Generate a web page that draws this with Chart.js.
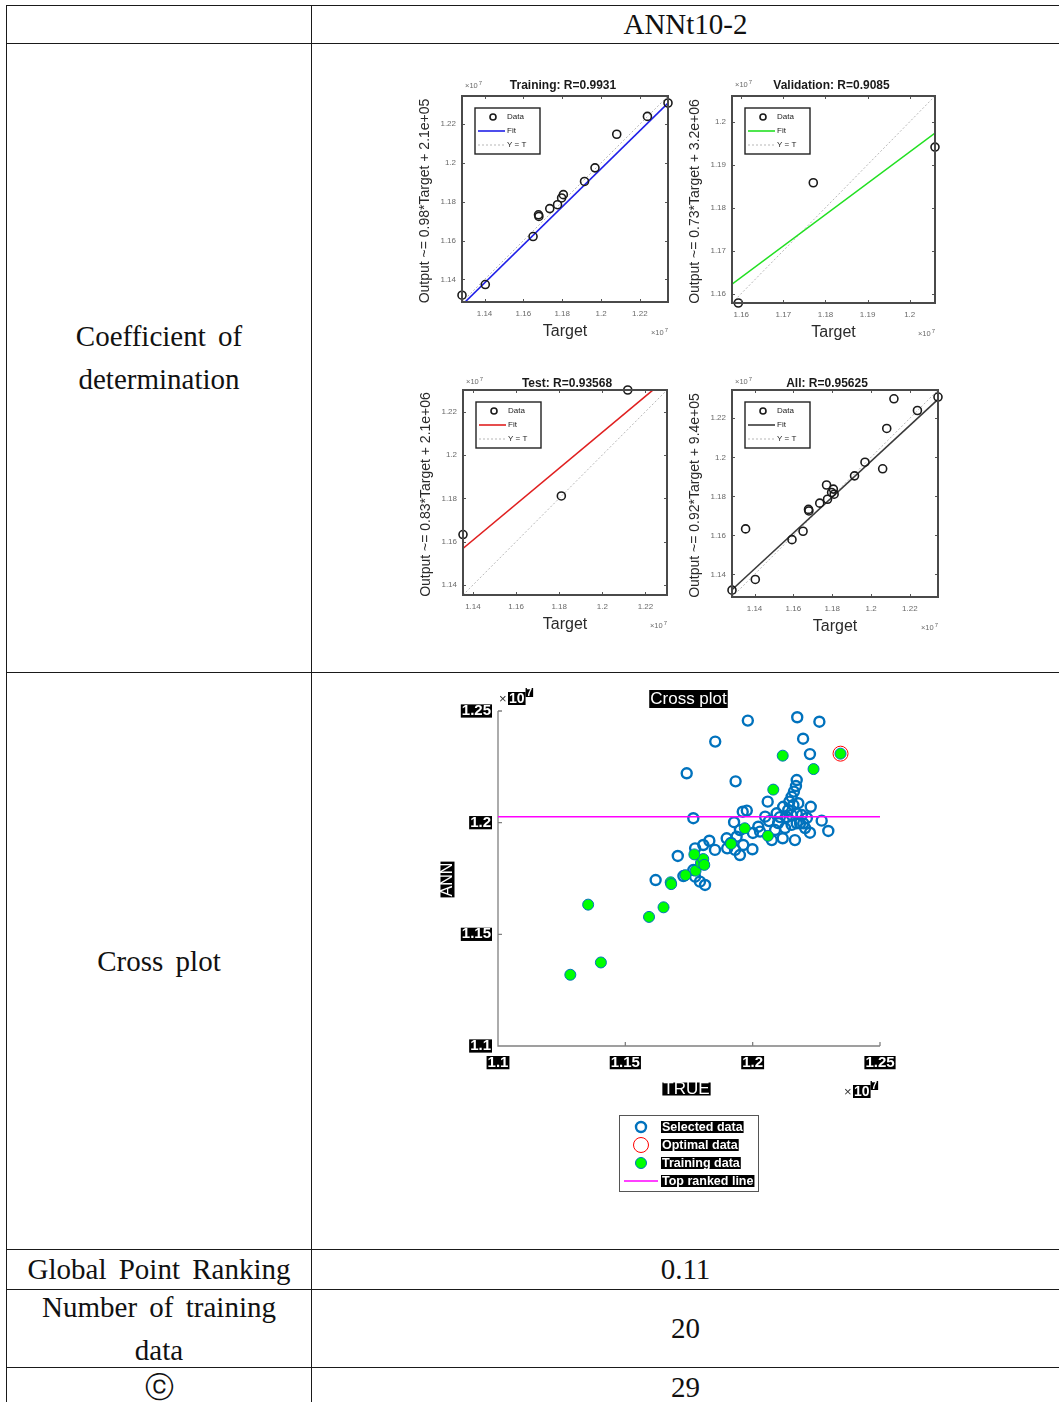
<!DOCTYPE html>
<html>
<head>
<meta charset="utf-8">
<title>ANNt10-2</title>
<script src="https://cdn.jsdelivr.net/npm/chart.js@4.4.1/dist/chart.umd.min.js"></script>
<style>
  html, body { margin: 0; padding: 0; background: #fff; }
  body { position: relative; width: 1059px; height: 1402px; overflow: hidden; }
  .hl { position: absolute; height: 1px; background: #1a1a1a; }
  .vl { position: absolute; width: 1px; background: #1a1a1a; }
  .cell { position: absolute; display: flex; flex-direction: column; justify-content: center; align-items: center;
          font-family: "Liberation Serif", "DejaVu Serif", serif; font-size: 29px; color: #111;
          line-height: 43px; word-spacing: 5px; white-space: nowrap; }
  canvas { position: absolute; }
  canvas.reg { filter: blur(0.7px); }
</style>
</head>
<body>
<!-- table rules -->
<div class="hl" style="left:6px;top:5px;width:1053px"></div>
<div class="hl" style="left:6px;top:43px;width:1053px"></div>
<div class="hl" style="left:6px;top:672px;width:1053px"></div>
<div class="hl" style="left:6px;top:1249px;width:1053px"></div>
<div class="hl" style="left:6px;top:1289px;width:1053px"></div>
<div class="hl" style="left:6px;top:1367px;width:1053px"></div>
<div class="vl" style="left:6px;top:5px;height:1397px"></div>
<div class="vl" style="left:311px;top:5px;height:1397px"></div>

<!-- table text -->
<div class="cell" style="left:312px;top:6px;width:747px;height:37px">ANNt10-2</div>
<div class="cell" style="left:7px;top:44px;width:304px;height:628px"><div>Coefficient of</div><div>determination</div></div>
<div class="cell" style="left:7px;top:673px;width:304px;height:576px">Cross plot</div>
<div class="cell" style="left:7px;top:1250px;width:304px;height:39px">Global Point Ranking</div>
<div class="cell" style="left:312px;top:1250px;width:747px;height:39px">0.11</div>
<div class="cell" style="left:7px;top:1290px;width:304px;height:77px"><div>Number of training</div><div>data</div></div>
<div class="cell" style="left:312px;top:1290px;width:747px;height:77px">20</div>
<div class="cell" style="left:7px;top:1368px;width:304px;height:38px">ⓒ</div>
<div class="cell" style="left:312px;top:1368px;width:747px;height:38px">29</div>

<canvas id="cTrain" class="reg"></canvas>
<canvas id="cVal" class="reg"></canvas>
<canvas id="cTest" class="reg"></canvas>
<canvas id="cAll" class="reg"></canvas>
<canvas id="cCross"></canvas>

<script>
// ---------- data (all values in units of 10^7) ----------
const trainTarget = [1.1284, 1.1404, 1.1650, 1.1678, 1.1680, 1.1736, 1.1776, 1.1797, 1.1806, 1.1915, 1.1969, 1.2081, 1.2239, 1.2345];
const trainOutput = [1.1319, 1.1374, 1.1621, 1.1733, 1.1725, 1.1765, 1.1785, 1.1820, 1.1837, 1.1905, 1.1975, 1.2148, 1.2240, 1.2309];
const valTarget = [1.1593, 1.1771, 1.2060];
const valOutput = [1.1578, 1.1858, 1.1941];
const testTarget = [1.1354, 1.1810, 1.2118];
const testOutput = [1.1633, 1.1811, 1.2300];
const allTarget = trainTarget.concat(valTarget, testTarget);
const allOutput = trainOutput.concat(valOutput, testOutput);

// linear fits (Output ~= slope*Target + intercept) and correlation per subset
const panelNames = ['Training', 'Validation', 'Test', 'All'];
const fitSlope = [0.98, 0.73, 0.83, 0.92];
const fitIntercept = [0.021, 0.317, 0.2145, 0.094];
const rValues = ['0.9931', '0.9085', '0.93568', '0.95625'];

const regTicks = [1.14, 1.16, 1.18, 1.2, 1.22];
const regTicksFine = [1.16, 1.17, 1.18, 1.19, 1.2];

// cross plot: candidate (selected) points, optimum, ranking line
const selTrue = [1.1981, 1.2175, 1.2262, 1.1853, 1.2198, 1.2225, 1.1741, 1.1933, 1.2173, 1.2170, 1.2162, 1.2153, 1.2144, 1.2059, 1.2228, 1.1961, 1.1977, 1.1767, 1.1927, 1.2049, 1.2094, 1.2120, 1.2140, 1.2160, 1.2179, 1.2107, 1.2134, 1.2153, 1.2173, 1.2193, 1.2186, 1.2199, 1.2173, 1.2153, 1.2271, 1.2297, 1.2225, 1.2166, 1.2118, 1.2075, 1.2022, 1.2029, 1.1950, 1.1937, 1.1898, 1.1900, 1.1931, 1.1950, 1.1963, 1.1999, 1.1830, 1.1852, 1.1806, 1.1706, 1.1774, 1.1767, 1.1774, 1.1793, 1.1813, 1.1728, 1.1619, 1.2088, 1.2127, 1.2100, 1.2213, 1.2206, 1.2001, 1.2064, 1.1915];
const selAnn = [1.2457, 1.2472, 1.2452, 1.2363, 1.2376, 1.2307, 1.2221, 1.2185, 1.2191, 1.2164, 1.2139, 1.2116, 1.2094, 1.2094, 1.2071, 1.2049, 1.2054, 1.2020, 1.2002, 1.2027, 1.2042, 1.2071, 1.2057, 1.2079, 1.2087, 1.2025, 1.2025, 1.2034, 1.2042, 1.2034, 1.1997, 1.1997, 1.1997, 1.1990, 1.2009, 1.1963, 1.1955, 1.1922, 1.1930, 1.1922, 1.1982, 1.1960, 1.1967, 1.1937, 1.1930, 1.1885, 1.1878, 1.1855, 1.1900, 1.1881, 1.1919, 1.1878, 1.1900, 1.1851, 1.1885, 1.1788, 1.1758, 1.1736, 1.1721, 1.1761, 1.1743, 1.1967, 1.1976, 1.1998, 1.2021, 1.1976, 1.1954, 1.2007, 1.1909];
const optTrue = [1.2345];
const optAnn = [1.2309];
const topLineTrue = [1.1, 1.25];
const topLineAnn = [1.2027, 1.2027];
const crossTicks = [1.1, 1.15, 1.2, 1.25];

// ---------- helpers ----------
const SANS = '"Liberation Sans", Arial, Helvetica, sans-serif';
Chart.defaults.font.family = SANS;
Chart.defaults.animation = false;
Chart.defaults.responsive = false;
Chart.defaults.plugins.legend.display = false;
Chart.defaults.plugins.tooltip.enabled = false;

const fmtTick = v => String(Number(Number(v).toFixed(2)));
const fmtExp = v => v.toExponential(1).replace(/e([+-])(\d+)$/, (m, s, d) => 'e' + s + d.padStart(2, '0'));
const toPoints = (xs, ys) => xs.map((v, i) => ({ x: v, y: ys[i] }));

function pinnedAxis(axis, lo, hi, tickList, size, tickOpts) {
  return {
    type: 'linear', min: lo, max: hi,
    grid: { display: false, drawTicks: false },
    border: { display: false },
    afterBuildTicks: s => {
      s.ticks = tickList.filter(v => v >= s.min - 1e-9 && v <= s.max + 1e-9).map(v => ({ value: v }));
    },
    afterFit: s => {
      if (axis === 'x') s.height = size; else s.width = size;
      s.paddingLeft = s.paddingRight = s.paddingTop = s.paddingBottom = 0;
    },
    ticks: Object.assign({ autoSkip: false, maxRotation: 0, minRotation: 0, callback: v => fmtTick(v) }, tickOpts)
  };
}

// small "x10^7" exponent marker used on the regression panels
function smallExp(ctx, x, y, alignRight) {
  ctx.save();
  ctx.fillStyle = '#6a6a6a';
  ctx.textBaseline = 'middle';
  ctx.font = '7.5px ' + SANS;
  const w1 = ctx.measureText('\u00d710').width;
  ctx.font = '6px ' + SANS;
  const w2 = ctx.measureText('7').width;
  const x0 = alignRight ? x - w1 - w2 - 1 : x;
  ctx.font = '7.5px ' + SANS;
  ctx.textAlign = 'left';
  ctx.fillText('\u00d710', x0, y);
  ctx.font = '6px ' + SANS;
  ctx.fillText('7', x0 + w1 + 1, y - 3);
  ctx.restore();
}

// ---------- regression panels ----------
const regDecor = {
  id: 'regDecor',
  afterDatasetsDraw(chart, args, o) {
    const { ctx, chartArea: a, scales: { x, y } } = chart;
    ctx.save();
    // inward ticks on all four sides
    ctx.strokeStyle = '#555'; ctx.lineWidth = 1;
    ctx.beginPath();
    x.ticks.forEach(t => {
      const px = Math.round(x.getPixelForValue(t.value)) + 0.5;
      ctx.moveTo(px, a.bottom); ctx.lineTo(px, a.bottom - 3);
      ctx.moveTo(px, a.top); ctx.lineTo(px, a.top + 3);
    });
    y.ticks.forEach(t => {
      const py = Math.round(y.getPixelForValue(t.value)) + 0.5;
      ctx.moveTo(a.left, py); ctx.lineTo(a.left + 3, py);
      ctx.moveTo(a.right, py); ctx.lineTo(a.right - 3, py);
    });
    ctx.stroke();
    // axes box
    ctx.lineWidth = 2; ctx.strokeStyle = '#4a4a4a';
    ctx.strokeRect(a.left, a.top, a.right - a.left, a.bottom - a.top);

    // legend box
    const lx = a.left + 13, ly = a.top + 12, lw = 65, lh = 46;
    ctx.fillStyle = '#fff'; ctx.fillRect(lx, ly, lw, lh);
    ctx.lineWidth = 1.4; ctx.strokeStyle = '#222'; ctx.strokeRect(lx, ly, lw, lh);
    chart.data.datasets.forEach((ds, i) => {
      const ry = ly + 9 + i * 14;
      ctx.save();
      if (ds.showLine) {
        ctx.strokeStyle = ds.borderColor; ctx.lineWidth = ds.borderWidth;
        ctx.setLineDash(ds.borderDash || []);
        ctx.beginPath(); ctx.moveTo(lx + 3, ry); ctx.lineTo(lx + 30, ry); ctx.stroke();
      } else {
        ctx.strokeStyle = ds.pointBorderColor; ctx.lineWidth = ds.pointBorderWidth;
        ctx.beginPath(); ctx.arc(lx + 18, ry, 3, 0, Math.PI * 2); ctx.stroke();
      }
      ctx.restore();
      ctx.fillStyle = '#222'; ctx.font = '8px ' + SANS;
      ctx.textAlign = 'left'; ctx.textBaseline = 'middle';
      ctx.fillText(ds.label, lx + 32, ry);
    });

    const cx = (a.left + a.right) / 2;
    // title
    ctx.fillStyle = '#1a1a1a'; ctx.textAlign = 'center'; ctx.textBaseline = 'middle';
    ctx.font = 'bold 12px ' + SANS;
    ctx.fillText(o.title, cx + o.titleDx, a.top - o.titleUp);
    // x label
    ctx.font = '16px ' + SANS;
    ctx.fillStyle = '#2a2a2a';
    ctx.fillText('Target', cx, a.bottom + 30);
    // y label
    ctx.save();
    ctx.translate(a.left - 37, (a.top + a.bottom) / 2 + 2);
    ctx.rotate(-Math.PI / 2);
    ctx.font = '14px ' + SANS;
    ctx.fillText(o.ylabel, 0, 0);
    ctx.restore();
    // exponent markers
    smallExp(ctx, a.left + 3, a.top - o.expUp, false);
    smallExp(ctx, a.right, a.bottom + 31, true);
    ctx.restore();
  }
};

const panels = [
  { id: 'cTrain', idx: 0, target: trainTarget, output: trainOutput, color: '#2020e8', ticks: regTicks, box: [462, 96, 668, 302], titleUp: 10, titleDx: -2, expUp: 10 },
  { id: 'cVal', idx: 1, target: valTarget, output: valOutput, color: '#22e022', ticks: regTicksFine, box: [732, 96, 935, 303], titleUp: 10, titleDx: -2, expUp: 11 },
  { id: 'cTest', idx: 2, target: testTarget, output: testOutput, color: '#e02020', ticks: regTicks, box: [463, 390, 667, 595], titleUp: 6, titleDx: 2, expUp: 8 },
  { id: 'cAll', idx: 3, target: allTarget, output: allOutput, color: '#3a3a3a', ticks: regTicks, box: [732, 390, 938, 597], titleUp: 6, titleDx: -8, expUp: 8 }
];

panels.forEach(p => {
  const [l, t, r, b] = p.box;
  const cv = document.getElementById(p.id);
  cv.width = r - l + 74; cv.height = b - t + 72;
  cv.style.left = (l - 60) + 'px'; cv.style.top = (t - 26) + 'px';
  const lo = Math.min(...p.target, ...p.output);
  const hi = Math.max(...p.target, ...p.output);
  const m = fitSlope[p.idx], c = fitIntercept[p.idx];
  const tickStyle = { color: '#6a6a6a', font: { size: 8 } };
  new Chart(cv, {
    type: 'scatter',
    data: {
      datasets: [
        { label: 'Data', data: toPoints(p.target, p.output), pointRadius: 4, pointBorderWidth: 1.6,
          pointBorderColor: '#1a1a1a', pointBackgroundColor: 'rgba(0,0,0,0)', clip: false, order: 0 },
        { label: 'Fit', data: [{ x: lo, y: m * lo + c }, { x: hi, y: m * hi + c }], showLine: true,
          pointRadius: 0, borderColor: p.color, borderWidth: 1.6, clip: 0, order: 1 },
        { label: 'Y = T', data: [{ x: lo, y: lo }, { x: hi, y: hi }], showLine: true, pointRadius: 0,
          borderColor: '#b8b8b8', borderWidth: 1, borderDash: [2, 2], clip: 0, order: 2 }
      ]
    },
    options: {
      devicePixelRatio: 1,
      events: [],
      layout: { padding: { left: 30, top: 26, right: 14, bottom: 26 } },
      scales: {
        x: pinnedAxis('x', lo, hi, p.ticks, 20, Object.assign({ padding: 7 }, tickStyle)),
        y: pinnedAxis('y', lo, hi, p.ticks, 30, Object.assign({ padding: 6 }, tickStyle))
      },
      plugins: {
        regDecor: {
          title: panelNames[p.idx] + ': R=' + rValues[p.idx],
          ylabel: 'Output ~= ' + m + '*Target + ' + fmtExp(c * 1e7),
          titleUp: p.titleUp, titleDx: p.titleDx, expUp: p.expUp
        }
      }
    },
    plugins: [regDecor]
  });
});

// ---------- cross plot ----------
function boxedText(ctx, text, x, y, font, align, h) {
  ctx.font = font;
  const w = ctx.measureText(text).width;
  const x0 = align === 'center' ? x - w / 2 : align === 'right' ? x - w : x;
  ctx.fillStyle = '#000';
  ctx.fillRect(x0 - 1, y - h / 2, w + 2, h);
  ctx.fillStyle = '#fff';
  ctx.textAlign = 'left'; ctx.textBaseline = 'middle';
  ctx.fillText(text, x0, y + 0.5);
  return x0 + w;
}

function boxedExp(ctx, x, y) {
  ctx.font = '13px ' + SANS;
  ctx.fillStyle = '#333'; ctx.textAlign = 'left'; ctx.textBaseline = 'middle';
  ctx.fillText('\u00d7', x, y + 1);
  const end = boxedText(ctx, '10', x + 10, y, 'bold 14px ' + SANS, 'left', 13);
  boxedText(ctx, '7', end + 2, y - 6, 'bold 10px ' + SANS, 'left', 9);
}

const crossDecor = {
  id: 'crossDecor',
  beforeDatasetsDraw(chart) {
    const { ctx, chartArea: a, scales: { x, y } } = chart;
    ctx.save();
    ctx.strokeStyle = '#808080'; ctx.lineWidth = 1.3;
    ctx.beginPath();
    ctx.moveTo(a.left, a.top); ctx.lineTo(a.left, a.bottom); ctx.lineTo(a.right, a.bottom);
    x.ticks.forEach(t => { const px = x.getPixelForValue(t.value); ctx.moveTo(px, a.bottom); ctx.lineTo(px, a.bottom - 4); });
    y.ticks.forEach(t => { const py = y.getPixelForValue(t.value); ctx.moveTo(a.left, py); ctx.lineTo(a.left + 4, py); });
    ctx.stroke();
    ctx.restore();
  },
  afterDraw(chart) {
    const { ctx, chartArea: a } = chart;
    ctx.save();
    const cx = (a.left + a.right) / 2;
    boxedText(ctx, 'Cross plot', cx - 0.5, a.top - 12, '17px ' + SANS, 'center', 18);
    boxedText(ctx, 'TRUE', cx - 2.5, a.bottom + 43, '17px ' + SANS, 'center', 13);
    ctx.save();
    ctx.translate(a.left - 50.5, (a.top + a.bottom) / 2 + 1);
    ctx.rotate(-Math.PI / 2);
    boxedText(ctx, 'ANN', 0, 0, '16px ' + SANS, 'center', 14);
    ctx.restore();
    boxedExp(ctx, a.left + 1, a.top - 12.5);
    boxedExp(ctx, a.right - 36, a.bottom + 45.5);

    // legend
    const lx = a.left + 121, ly = a.bottom + 69, lw = 139, lh = 76;
    ctx.fillStyle = '#fff'; ctx.fillRect(lx, ly, lw, lh);
    ctx.strokeStyle = '#555'; ctx.lineWidth = 1; ctx.strokeRect(lx + 0.5, ly + 0.5, lw, lh);
    chart.data.datasets.forEach((ds, i) => {
      const ry = ly + 12 + i * 18;
      ctx.save();
      if (ds.showLine) {
        ctx.strokeStyle = ds.borderColor; ctx.lineWidth = ds.borderWidth;
        ctx.beginPath(); ctx.moveTo(lx + 5, ry); ctx.lineTo(lx + 39, ry); ctx.stroke();
      } else {
        ctx.beginPath(); ctx.arc(lx + 22, ry, ds.pointRadius, 0, Math.PI * 2);
        ctx.fillStyle = ds.pointBackgroundColor; ctx.fill();
        ctx.strokeStyle = ds.pointBorderColor; ctx.lineWidth = ds.pointBorderWidth; ctx.stroke();
      }
      ctx.restore();
      boxedText(ctx, ds.label, lx + 43, ry, 'bold 12.5px ' + SANS, 'left', 12);
    });
    ctx.restore();
  }
};

(function () {
  const cv = document.getElementById('cCross');
  cv.width = 480; cv.height = 520;
  cv.style.left = '425px'; cv.style.top = '680px';
  const tickStyle = {
    color: '#fff', font: { size: 15, weight: 'bold', lineHeight: 0.75 },
    showLabelBackdrop: true, backdropColor: '#000', backdropPadding: 1
  };
  new Chart(cv, {
    type: 'scatter',
    data: {
      datasets: [
        { label: 'Selected data', data: toPoints(selTrue, selAnn), pointRadius: 5, pointBorderWidth: 2.4,
          pointBorderColor: '#0072BD', pointBackgroundColor: 'rgba(0,0,0,0)', order: 4 },
        { label: 'Optimal data', data: toPoints(optTrue, optAnn), pointRadius: 7.5, pointBorderWidth: 1,
          pointBorderColor: '#ff0000', pointBackgroundColor: 'rgba(0,0,0,0)', order: 1 },
        { label: 'Training data', data: toPoints(allTarget, allOutput), pointRadius: 5.5, pointBorderWidth: 1,
          pointBorderColor: '#0072BD', pointBackgroundColor: '#00ff00', order: 2 },
        { label: 'Top ranked line', data: toPoints(topLineTrue, topLineAnn), showLine: true, pointRadius: 0,
          borderColor: '#ff00ff', borderWidth: 1.5, order: 0 }
      ]
    },
    options: {
      devicePixelRatio: 1,
      events: [],
      layout: { padding: { left: 33, top: 31, right: 25, bottom: 124 } },
      scales: {
        x: pinnedAxis('x', crossTicks[0], crossTicks[crossTicks.length - 1], crossTicks, 30, Object.assign({ padding: 11 }, tickStyle)),
        y: pinnedAxis('y', crossTicks[0], crossTicks[crossTicks.length - 1], crossTicks, 40, Object.assign({ padding: 7 }, tickStyle))
      }
    },
    plugins: [crossDecor]
  });
})();
</script>
</body>
</html>
